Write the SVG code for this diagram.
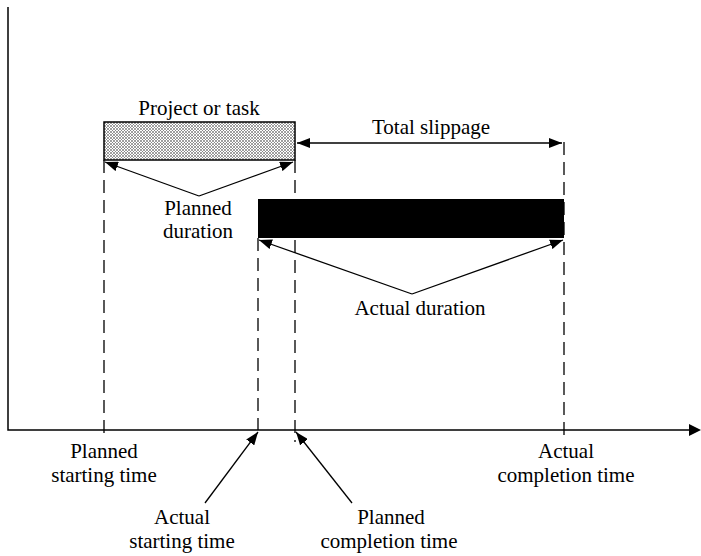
<svg xmlns="http://www.w3.org/2000/svg" width="701" height="556" viewBox="0 0 701 556">
<defs>
<pattern id="hatch" width="3" height="3" patternUnits="userSpaceOnUse">
<rect width="3" height="3" fill="#fff"/>
<path d="M0,0 L3,3 M3,0 L0,3" stroke="#777" stroke-width="0.7"/>
</pattern>
<marker id="ah" viewBox="0 0 13 10" refX="13" refY="5" markerWidth="13" markerHeight="10" markerUnits="userSpaceOnUse" orient="auto-start-reverse">
<path d="M0,0 L13,5 L0,10 z" fill="#000"/>
</marker>
</defs>
<style>
text{font-family:"Liberation Serif","Times New Roman",serif;font-size:21px;fill:#000;text-anchor:middle}
.ax{stroke:#000;stroke-width:1.5;fill:none}
.dash{stroke:#000;stroke-width:1.3;stroke-dasharray:13 7;fill:none}
.arr{stroke:#000;stroke-width:1.3;fill:none;marker-end:url(#ah)}
</style>
<g id="axes">
<path class="ax" d="M8,7 L8,430 L690,430"/>
<path d="M689,424 L701,430 L689,436 z" fill="#000"/>
</g>
<g id="planned-bar">
<rect x="104" y="122" width="191" height="38" fill="url(#hatch)" stroke="#000" stroke-width="1.5"/>
<text x="199" y="115">Project or task</text>
</g>
<g id="actual-bar">
<rect x="258" y="199" width="306" height="39" fill="#000"/>
</g>
<g id="connectors">
<path class="dash" d="M104,160 L104,437"/>
<path class="dash" d="M258,238 L258,430"/>
<path class="dash" d="M295,160 L295,442"/>
<path class="dash" d="M564,142 L564,437"/>
<path class="arr" d="M199,196 L105,162"/>
<path class="arr" d="M199,196 L293,162"/>
<path class="arr" d="M412,294 L259,240"/>
<path class="arr" d="M412,294 L563,240"/>
<path d="M297,143 L562,143" stroke="#000" stroke-width="1.3" marker-start="url(#ah)" marker-end="url(#ah)"/>
<path class="arr" d="M205,503 L258,432"/>
<path class="arr" d="M352,503 L296,432"/>
</g>
<g id="labels">
<text x="431" y="134">Total slippage</text>
<text x="198" y="215">Planned</text>
<text x="198" y="238">duration</text>
<text x="420" y="315">Actual duration</text>
<text x="104" y="458">Planned</text>
<text x="104" y="482">starting time</text>
<text x="566" y="458">Actual</text>
<text x="566" y="482">completion time</text>
<text x="182" y="524">Actual</text>
<text x="182" y="548">starting time</text>
<text x="391" y="524">Planned</text>
<text x="389" y="548">completion time</text>
</g>
</svg>
